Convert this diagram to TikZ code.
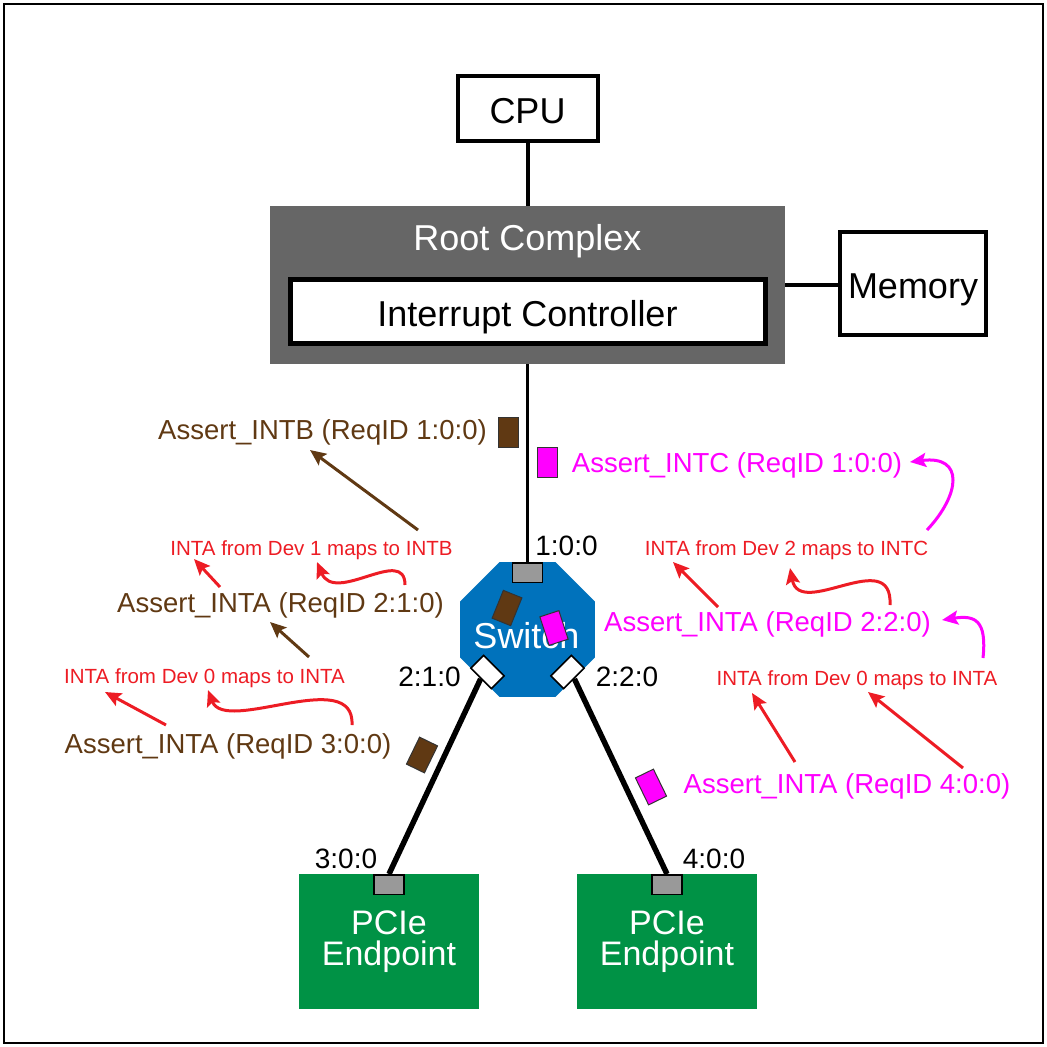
\documentclass[tikz,border=0pt]{standalone}
\usepackage{fontspec}
\setmainfont{Liberation Sans}
\usepackage{tikz}
\usetikzlibrary{calc,arrows.meta,shapes.geometric}
\definecolor{rcgray}{HTML}{666666}
\definecolor{swblue}{HTML}{0072BC}
\definecolor{epgreen}{HTML}{009245}
\definecolor{portgray}{HTML}{999999}
\definecolor{pktbrown}{HTML}{603913}
\definecolor{pktpink}{HTML}{FF00FF}
\definecolor{mapred}{HTML}{ED1C24}
\tikzset{
  box/.style={draw=black, line width=4pt, fill=white, inner sep=0pt,
    text height=30pt, text depth=0pt, font=\fontsize{36}{40}\selectfont},
  big/.style={font=\fontsize{36}{40}\selectfont, inner sep=0pt, anchor=base},
  ep/.style={fill=epgreen, text=white, minimum width=180pt, minimum height=135pt,
    align=center, font=\fontsize{34}{31}\selectfont},
  port/.style={draw=black, line width=1.5pt, fill=portgray, inner sep=0pt,
    minimum width=30pt, minimum height=19.5pt},
  dport/.style={port, fill=white, minimum width=29pt, minimum height=18pt},
  pkt/.style={draw=black!80, line width=1pt, inner sep=0pt,
    minimum width=20pt, minimum height=30pt},
  msg/.style={font=\fontsize{27.5}{30}\selectfont, inner sep=0pt, anchor=base},
  map/.style={font=\fontsize{20.5}{24}\selectfont, text=mapred, inner sep=0pt, anchor=base},
  addr/.style={font=\fontsize{28}{30}\selectfont, inner sep=0pt, anchor=base},
  flow/.style={line width=3pt, -{Stealth[length=16pt,width=14pt,inset=3pt]}},
  link/.style={line width=5.5pt}
}

\begin{document}
\begin{tikzpicture}[x=1pt,y=-1pt]
\useasboundingbox (0,0) rectangle (1047,1047);
\draw[line width=1.5pt] (4,4) rectangle (1043,1043);

% host side
\node[fill=rcgray, minimum width=515pt, minimum height=158pt, inner sep=0pt] (rc) at (527.5,285) {};
\node[big, text=white] (rclbl) at ([shift={(0,-35)}]rc.center) {Root Complex};
\node[box, line width=5pt, minimum width=475pt, minimum height=64pt] (ic) at (527.5,311.5) {Interrupt Controller};
\node[box, minimum width=140pt, minimum height=65pt] (cpu) at (527.5,108.5) {CPU};
\node[box, minimum width=146pt, minimum height=103pt] (mem) at (913,283.5) {Memory};
\draw[line width=4pt] (cpu.south) -- (rc.north);
\draw[line width=4pt] (rc.east) -- (rc.east -| mem.west);

% switch
\node[regular polygon, regular polygon sides=8, minimum size=146pt, inner sep=0pt, fill=swblue] (sw) at (527.5,629.5) {};
\node[big, text=white] (swlbl) at ([shift={(-1,18.5)}]sw.center) {Switch};
\node[port] (p100) at (527.5,572.5) {};
\node[dport, rotate=-45] (p210) at (487.5,672) {};
\node[dport, rotate=45] (p220) at (567.5,672) {};
\draw[line width=3pt] (rc.south) -- (p100.north);

% endpoints
\node[ep] (ep1) at (389,941.5) {PCIe\\Endpoint};
\node[ep] (ep2) at (667,941.5) {PCIe\\Endpoint};
\node[port] (p300) at (389,884.5) {};
\node[port] (p400) at (667,884.5) {};
\draw[link] (p210.south) -- (p300.north);
\draw[link] (p220.south) -- (p400.north);

% bus numbers
\node[addr] (a100) at (566.5,555) {1:0:0};
\node[addr] (a210) at (429.5,686) {2:1:0};
\node[addr] (a220) at (627,686) {2:2:0};
\node[addr] (a300) at (346,868) {3:0:0};
\node[addr] (a400) at (714,868) {4:0:0};

% messages in flight
\node[pkt, fill=pktbrown] (k1) at (508.5,432) {};
\node[pkt, fill=pktbrown, rotate=-22] (k2) at (507,608) {};
\node[pkt, fill=pktbrown, rotate=-26] (k3) at (422,755) {};
\node[pkt, fill=pktpink] (k4) at (547,462.5) {};
\node[pkt, fill=pktpink, rotate=18] (k5) at (554,628) {};
\node[pkt, fill=pktpink, rotate=26] (k6) at (651,787) {};

% left path (dev 1)
\node[msg, text=pktbrown] (intb) at (322.5,439) {Assert\_INTB (ReqID 1:0:0)};
\node[map] (map1) at (311.5,555) {INTA from Dev 1 maps to INTB};
\node[msg, text=pktbrown] (inta21) at (280.5,612) {Assert\_INTA (ReqID 2:1:0)};
\node[map] (map0l) at (204.5,683) {INTA from Dev 0 maps to INTA};
\node[msg, text=pktbrown] (inta30) at (228,753) {Assert\_INTA (ReqID 3:0:0)};
\draw[flow, pktbrown] ([shift={(106.5,-25)}]map1.base) -- ([shift={(-12.5,11)}]intb.base);
\draw[flow, pktbrown] ([shift={(104.5,-26)}]map0l.base) -- ([shift={(-10.5,10)}]inta21.base);
\draw[flow, mapred] ([shift={(-60.5,-25)}]inta21.base) -- ([shift={(-117.5,4)}]map1.base);
\draw[flow, mapred] ([shift={(124.5,-27)}]inta21.base) .. controls +(0,-40) and +(18,43) .. ([shift={(5.5,7)}]map1.base);
\draw[flow, mapred] ([shift={(-62,-28)}]inta30.base) -- ([shift={(-99.5,9)}]map0l.base);
\draw[flow, mapred] ([shift={(124,-28)}]inta30.base) .. controls +(3,-60) and +(17,45) .. ([shift={(3.5,7)}]map0l.base);

% right path (dev 2)
\node[msg, text=pktpink] (intc) at (737,472) {Assert\_INTC (ReqID 1:0:0)};
\node[map] (map2) at (786.5,555) {INTA from Dev 2 maps to INTC};
\node[msg, text=pktpink] (inta22) at (767.5,631) {Assert\_INTA (ReqID 2:2:0)};
\node[map] (map0r) at (857,685) {INTA from Dev 0 maps to INTA};
\node[msg, text=pktpink] (inta40) at (847,793) {Assert\_INTA (ReqID 4:0:0)};
\draw[flow, pktpink] ([shift={(140.5,-25)}]map2.base) .. controls +(33,-35) and +(55,-7) .. ([shift={(173,-10)}]intc.base);
\draw[flow, mapred] ([shift={(-49.5,-24)}]inta22.base) -- ([shift={(-113.5,7)}]map2.base);
\draw[flow, mapred] ([shift={(122.5,-26)}]inta22.base) .. controls +(3,-60) and +(10,52) .. ([shift={(3.5,13)}]map2.base);
\draw[flow, pktpink] ([shift={(126,-27)}]map0r.base) .. controls +(4,-38) and +(33,-5) .. ([shift={(174.5,-11)}]inta22.base);
\draw[flow, mapred] ([shift={(-52,-31)}]inta40.base) -- ([shift={(-105,8)}]map0r.base);
\draw[flow, mapred] ([shift={(116,-25)}]inta40.base) -- ([shift={(11,7)}]map0r.base);
\end{tikzpicture}
\end{document}
